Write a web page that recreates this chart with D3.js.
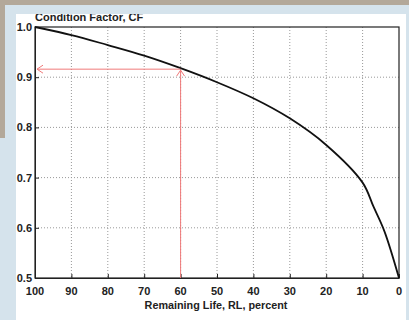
<!DOCTYPE html>
<html lang="en">
<head>
<meta charset="UTF-8">
<title>Condition Factor vs Remaining Life</title>
<script src="https://cdn.jsdelivr.net/npm/d3@7"></script>
<style>
  html, body { margin: 0; padding: 0; background: #d5e3ec; }
  svg { display: block; font-family: "Liberation Sans", Arial, sans-serif; }
</style>
</head>
<body>
<div id="chart"></div>
<script>
// remaining life (percent) and condition factor
const remainingLife = [100, 90, 80, 70, 60, 50, 40, 30, 20, 10, 7, 4, 0];
const conditionFactor = [1.0, 0.984, 0.964, 0.943, 0.918, 0.89, 0.858, 0.818, 0.765, 0.69, 0.642, 0.593, 0.5];
const xTicks = [100, 90, 80, 70, 60, 50, 40, 30, 20, 10, 0];
const yTicks = [0.5, 0.6, 0.7, 0.8, 0.9, 1.0];
// the example read-off marked with red arrows
const markRL = 60;
const markCF = 0.916;

const width = 409, height = 320;
const plotL = 35, plotR = 399, plotT = 27, plotB = 278;

const svg = d3.select("#chart").append("svg")
    .attr("width", width)
    .attr("height", height);

// page backdrop (scanned document look)
svg.append("rect").attr("width", width).attr("height", height).attr("fill", "#d5e3ec");
svg.append("rect").attr("width", width).attr("height", 5).attr("fill", "#b3a899");
svg.append("rect").attr("width", 5).attr("height", 138).attr("fill", "#b3a899");
svg.append("rect").attr("x", 16).attr("y", 14).attr("width", 390).attr("height", height - 14).attr("fill", "#fff");

svg.append("clipPath").attr("id", "page")
  .append("rect").attr("x", 16).attr("y", 14).attr("width", 390).attr("height", height - 14);

const x = d3.scaleLinear().domain([100, 0]).range([plotL, plotR]);
const y = d3.scaleLinear().domain([0.5, 1.0]).range([plotB, plotT]);

const g = svg.append("g").attr("clip-path", "url(#page)");

// grid
g.selectAll(".vgrid").data(xTicks.slice(1, -1)).join("line")
    .attr("x1", d => x(d)).attr("x2", d => x(d))
    .attr("y1", plotT).attr("y2", plotB)
    .attr("stroke", "#999").attr("stroke-width", 1).attr("stroke-dasharray", "1,2");
g.selectAll(".hgrid").data(yTicks.slice(1, -1)).join("line")
    .attr("x1", plotL).attr("x2", plotR)
    .attr("y1", d => y(d)).attr("y2", d => y(d))
    .attr("stroke", "#999").attr("stroke-width", 1).attr("stroke-dasharray", "1,2");

// axes with inward ticks
const xAxis = d3.axisBottom(x).tickValues(xTicks).tickSizeInner(-4).tickSizeOuter(0).tickFormat("");
const yAxis = d3.axisLeft(y).tickValues(yTicks).tickSizeInner(-4).tickSizeOuter(0).tickFormat("");
g.append("g").attr("transform", `translate(0,${plotB})`).call(xAxis)
  .call(a => a.selectAll("path, line").attr("stroke", "#222"));
g.append("g").attr("transform", `translate(${plotL},0)`).call(yAxis)
  .call(a => a.selectAll("path, line").attr("stroke", "#222"));

g.append("rect")
    .attr("x", plotL).attr("y", plotT)
    .attr("width", plotR - plotL).attr("height", plotB - plotT)
    .attr("fill", "none").attr("stroke", "#222").attr("stroke-width", 1.2);

// tick labels
g.selectAll(".xl").data(xTicks).join("text")
    .attr("x", d => x(d)).attr("y", plotB + 17)
    .attr("text-anchor", "middle")
    .attr("font-size", 11).attr("font-weight", "bold").attr("fill", "#222")
    .text(d => d);
g.selectAll(".yl").data(yTicks).join("text")
    .attr("x", plotL - 3).attr("y", d => y(d) + 4)
    .attr("text-anchor", "end")
    .attr("font-size", 11).attr("font-weight", "bold").attr("fill", "#222")
    .text(d => d.toFixed(1));

g.append("text")
    .attr("x", 216).attr("y", 309)
    .attr("text-anchor", "middle")
    .attr("font-size", 10.8).attr("font-weight", "bold").attr("fill", "#222")
    .text("Remaining Life, RL, percent");
g.append("text")
    .attr("x", plotL).attr("y", 21)
    .attr("font-size", 11).attr("font-weight", "bold").attr("fill", "#222")
    .text("Condition Factor, CF");

// curve
const pts = remainingLife.map((r, i) => [r, conditionFactor[i]]);
g.append("path")
    .datum(pts)
    .attr("fill", "none")
    .attr("stroke", "#111")
    .attr("stroke-width", 1.8)
    .attr("d", d3.line().x(d => x(d[0])).y(d => y(d[1])).curve(d3.curveCatmullRom.alpha(0.5)));

// read-off arrows
const red = "#f07a7a";
g.append("line")
    .attr("x1", x(markRL)).attr("x2", x(markRL))
    .attr("y1", plotB).attr("y2", y(markCF) + 1)
    .attr("stroke", red).attr("stroke-width", 1);
g.append("path")
    .attr("d", `M${x(markRL) - 4},${y(markCF) + 7}L${x(markRL)},${y(markCF) + 1}L${x(markRL) + 4},${y(markCF) + 7}`)
    .attr("fill", "none").attr("stroke", red).attr("stroke-width", 1);
g.append("line")
    .attr("x1", x(markRL)).attr("x2", plotL + 2)
    .attr("y1", y(markCF)).attr("y2", y(markCF))
    .attr("stroke", red).attr("stroke-width", 1);
g.append("path")
    .attr("d", `M${plotL + 8},${y(markCF) - 4}L${plotL + 2},${y(markCF)}L${plotL + 8},${y(markCF) + 4}`)
    .attr("fill", "none").attr("stroke", red).attr("stroke-width", 1);
</script>
</body>
</html>
